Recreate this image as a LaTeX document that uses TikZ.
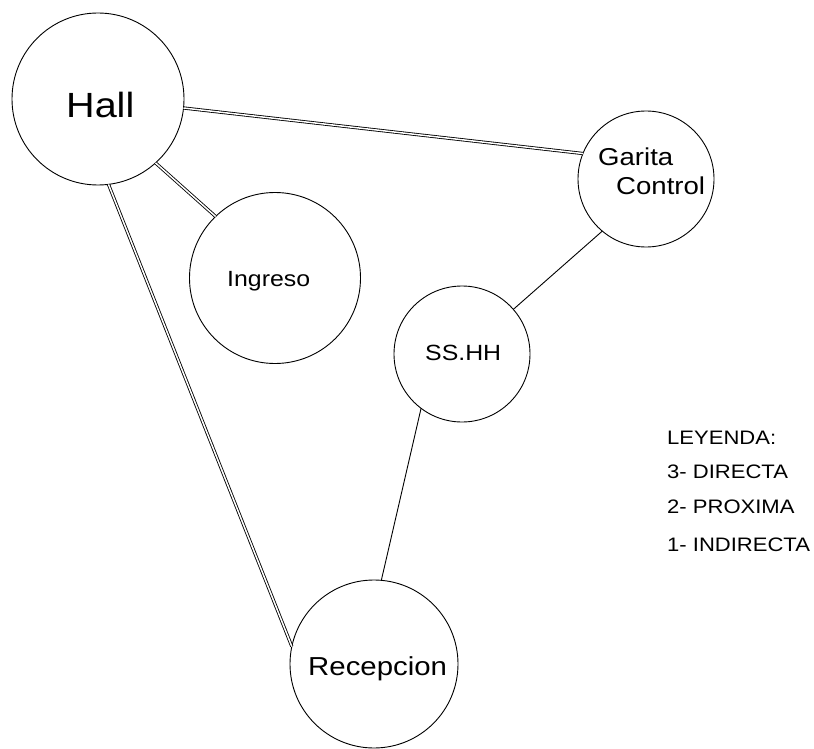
\documentclass[tikz,border=0pt]{standalone}
\usepackage{fontspec}
\setmainfont[FakeStretch=1.13]{Liberation Sans}
\begin{document}
\begin{tikzpicture}[x=1pt,y=-1pt,
  room/.style={circle,draw,line width=0.9pt,inner sep=0pt,outer sep=0pt},
  lbl/.style={anchor=base west,inner sep=0pt},
  rel3/.style={double,double distance=1.5pt,line width=0.85pt},
  rel1/.style={line width=0.9pt}]
\useasboundingbox (0,0) rectangle (814,749);
\node[room,minimum size=172pt] (hall) at (98,99) {};
\node[room,minimum size=136pt] (garita) at (646,179) {};
\node[room,minimum size=171pt] (ingreso) at (275,278) {};
\node[room,minimum size=136pt] (sshh) at (462,354) {};
\node[room,minimum size=168pt] (recep) at (374,664) {};
\node[lbl,font=\fontsize{35}{40}\selectfont] (thall) at (66,118) {Hall};
\node[lbl,font=\fontsize{24.4}{28}\selectfont] (tgar) at (598,165) {Garita};
\node[lbl,font=\fontsize{24.4}{28}\selectfont] (tcon) at (616,194) {Control};
\node[lbl,font=\fontsize{22}{26}\selectfont] (ting) at (227,286) {Ingreso};
\node[lbl,font=\fontsize{22}{26}\selectfont] (tss) at (425,360) {SS.HH};
\node[lbl,font=\fontsize{26}{30}\selectfont] (trec) at (308,675) {Recepcion};
\node[lbl,font=\fontsize{19.5}{23}\selectfont] (l0) at (667,444) {LEYENDA:};
\node[lbl,font=\fontsize{19.5}{23}\selectfont] (l1) at (667,478) {3- DIRECTA};
\node[lbl,font=\fontsize{19.5}{23}\selectfont] (l2) at (667,513) {2- PROXIMA};
\node[lbl,font=\fontsize{19.5}{23}\selectfont] (l3) at (667,551) {1- INDIRECTA};
\draw[rel3] (hall.-6) -- (garita.158);
\draw[rel3] (hall.-48) -- (ingreso.134);
\draw[rel3] (hall.-83) -- (recep.168);
\draw[rel1] (garita.-130) -- (sshh.41);
\draw[rel1] (sshh.-127) -- (recep.85);
\end{tikzpicture}
\end{document}
